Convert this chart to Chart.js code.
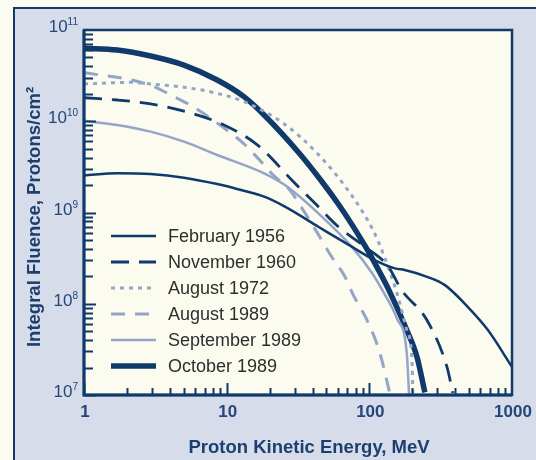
<!DOCTYPE html>
<html>
<head>
<meta charset="utf-8">
<script src="https://cdn.jsdelivr.net/npm/chart.js@4/dist/chart.umd.min.js"></script>
<style>
  html, body { margin: 0; padding: 0; background: #fbfbef; }
  #wrap { width: 536px; height: 460px; }
</style>
</head>
<body>
<div id="wrap"><canvas id="chart" width="536" height="460"></canvas></div>
<script>
// Solar proton event fluence spectra, log-log

const SERIES_LABELS = ["February 1956", "November 1960", "August 1972", "August 1989", "September 1989", "October 1989"];

const FEB_1956_E = [1, 1.71, 2.93, 5.02, 8.59, 13.2, 18.3, 25.6, 43.9, 75.2, 109, 151, 177, 257, 339, 491, 678, 1000];
const FEB_1956_F = [2.56e9, 2.69e9, 2.64e9, 2.41e9, 2.05e9, 1.73e9, 1.49e9, 1.16e9, 6.98e8, 4.22e8, 3.01e8, 2.44e8, 2.34e8, 1.96e8, 1.6e8, 9.2e7, 5.15e7, 2.03e7];

const NOV_1960_E = [1, 1.71, 2.93, 5.02, 9.57, 16.4, 30.1, 41.6, 60.6, 93.1, 135.8, 168, 253, 350, 385];
const NOV_1960_F = [1.81e10, 1.71e10, 1.55e10, 1.29e10, 9.1e9, 5.5e9, 2.09e9, 1.26e9, 6.98e8, 4.22e8, 2.55e8, 1.42e8, 6.64e7, 2.03e7, 1.05e7];

const AUG_1972_E = [1, 2.12, 3.09, 5.02, 8.59, 13.2, 24.8, 42.9, 73.1, 106, 124.5, 156, 183, 199, 202];
const AUG_1972_F = [2.56e10, 2.67e10, 2.54e10, 2.36e10, 2.02e10, 1.64e10, 9.57e9, 4.49e9, 1.64e9, 6.43e8, 3.6e8, 1.31e8, 5.15e7, 2.42e7, 1.0e7];

const AUG_1989_E = [1, 2.17, 3.09, 4.27, 5.53, 7.43, 10.0, 13.1, 16.6, 21.2, 27.8, 32.6, 42.7, 54.4, 67.5, 77.1, 96.2, 118.6, 139];
const AUG_1989_F = [3.4e10, 2.83e10, 2.39e10, 1.86e10, 1.51e10, 1.12e10, 8.02e9, 5.73e9, 3.92e9, 2.57e9, 1.75e9, 1.21e9, 6.17e8, 3.28e8, 1.98e8, 1.25e8, 6.64e7, 2.88e7, 1.05e7];

const SEP_1989_E = [1, 1.71, 2.93, 5.02, 8.59, 18.3, 25.6, 43.9, 75.2, 103.8, 128.5, 156, 183, 190];
const SEP_1989_F = [1.01e10, 9.1e9, 7.69e9, 5.97e9, 4.27e9, 2.69e9, 2.0e9, 9.8e8, 4.22e8, 2.2e8, 1.26e8, 6.9e7, 2.88e7, 1.0e7];

const OCT_1989_E = [1, 1.71, 2.93, 5.02, 8.59, 13.2, 18.3, 32.6, 46.3, 60.6, 75.2, 93.1, 109, 128.5, 143, 183, 216, 245];
const OCT_1989_F = [6.31e10, 6.04e10, 5.19e10, 4.13e10, 2.83e10, 1.86e10, 1.17e10, 4.38e9, 2.2e9, 1.24e9, 7.46e8, 4.33e8, 2.81e8, 1.73e8, 1.23e8, 5.15e7, 2.59e7, 1.07e7];

const X_TICKS = [1, 10, 100, 1000];
const Y_EXPONENTS = [7, 8, 9, 10, 11];

const NAVY = "#0f3a6b";
const LIGHT = "#95a5c9";
const PAGE_BG = "#fbfbef";
const PANEL_BG = "#d6dcea";
const PLOT_BG = "#fbfbef";
const FONT = "'Liberation Sans', Arial, sans-serif";

function pts(es, fs) {
  return es.map((e, i) => ({ x: e, y: fs[i] }));
}

function series(label, es, fs, color, width, dash) {
  return {
    label, data: pts(es, fs), borderColor: color, borderWidth: width,
    borderDash: dash, pointRadius: 0, cubicInterpolationMode: "monotone", fill: false,
  };
}

const frame = {
  id: "frame",
  beforeDraw(chart) {
    const { ctx, chartArea: a } = chart;
    ctx.save();
    ctx.fillStyle = PAGE_BG;
    ctx.fillRect(0, 0, chart.width, chart.height);
    ctx.fillStyle = PANEL_BG;
    ctx.fillRect(14, 8, chart.width, chart.height);
    ctx.strokeStyle = NAVY;
    ctx.lineWidth = 2;
    ctx.strokeRect(14, 8, chart.width + 20, chart.height + 20);
    ctx.fillStyle = PLOT_BG;
    ctx.fillRect(a.left, a.top, a.right - a.left, a.bottom - a.top);
    ctx.restore();
  },
  afterDraw(chart) {
    const { ctx, chartArea: a } = chart;
    const xs = chart.scales.x, ys = chart.scales.y;
    ctx.save();

    // inward ticks
    ctx.strokeStyle = NAVY;
    ctx.lineWidth = 2;
    ctx.beginPath();
    for (let d = 7; d < 11; d++) {
      for (let m = 1; m <= 9; m++) {
        const py = Math.round(ys.getPixelForValue(m * Math.pow(10, d))) + 0.5;
        const len = m === 1 ? 12 : 9;
        ctx.moveTo(a.left, py); ctx.lineTo(a.left + len, py);
      }
    }
    for (let d = 0; d < 3; d++) {
      for (let m = 1; m <= 9; m++) {
        const px = Math.round(xs.getPixelForValue(m * Math.pow(10, d))) + 0.5;
        const len = m === 1 ? 12 : 7;
        ctx.moveTo(px, a.bottom); ctx.lineTo(px, a.bottom - len);
      }
    }
    ctx.stroke();

    // plot frame
    ctx.lineWidth = 2.5;
    ctx.strokeRect(a.left, a.top, a.right - a.left, a.bottom - a.top);
    ctx.lineWidth = 3;
    ctx.beginPath();
    ctx.moveTo(a.left, a.top); ctx.lineTo(a.left, a.bottom); ctx.lineTo(a.right, a.bottom);
    ctx.stroke();

    // y tick labels 10^n
    ctx.fillStyle = "#24467a";
    ctx.textBaseline = "alphabetic";
    Y_EXPONENTS.forEach((e) => {
      const py = ys.getPixelForValue(Math.pow(10, e));
      ctx.font = "10px " + FONT;
      const ew = ctx.measureText(String(e)).width;
      ctx.textAlign = "right";
      ctx.fillText(String(e), 78, py - 5);
      ctx.font = "17px " + FONT;
      ctx.fillText("10", 78 - ew, py + 2);
    });

    // x tick labels
    ctx.font = "bold 17px " + FONT;
    ctx.textAlign = "center";
    X_TICKS.forEach((v) => {
      ctx.fillText(String(v), xs.getPixelForValue(v) + 1, 417);
    });

    // axis titles
    ctx.fillStyle = "#1d3f70";
    ctx.font = "bold 18.5px " + FONT;
    ctx.fillText("Proton Kinetic Energy, MeV", 309, 453);
    ctx.save();
    ctx.translate(40, 217);
    ctx.rotate(-Math.PI / 2);
    ctx.fillText("Integral Fluence, Protons/cm²", 0, 0);
    ctx.restore();

    // legend inside the plot
    ctx.textAlign = "left";
    ctx.textBaseline = "middle";
    ctx.font = "18px " + FONT;
    chart.data.datasets.forEach((ds, i) => {
      const y = 236 + i * 26;
      ctx.strokeStyle = ds.borderColor;
      ctx.lineWidth = ds.borderWidth;
      ctx.setLineDash(ds.borderDash || []);
      ctx.beginPath();
      ctx.moveTo(111, y); ctx.lineTo(156, y);
      ctx.stroke();
      ctx.setLineDash([]);
      ctx.fillStyle = "#2e2e2e";
      ctx.fillText(ds.label, 168, y + 1);
    });

    ctx.restore();
  },
};

new Chart(document.getElementById("chart"), {
  type: "line",
  data: {
    datasets: [
      series(SERIES_LABELS[0], FEB_1956_E, FEB_1956_F, NAVY, 2.5, []),
      series(SERIES_LABELS[1], NOV_1960_E, NOV_1960_F, NAVY, 2.8, [18, 10]),
      series(SERIES_LABELS[2], AUG_1972_E, AUG_1972_F, LIGHT, 3, [4, 5]),
      series(SERIES_LABELS[3], AUG_1989_E, AUG_1989_F, LIGHT, 3, [14, 10]),
      series(SERIES_LABELS[4], SEP_1989_E, SEP_1989_F, LIGHT, 2.5, []),
      series(SERIES_LABELS[5], OCT_1989_E, OCT_1989_F, NAVY, 5.5, []),
    ],
  },
  options: {
    responsive: false,
    animation: false,
    devicePixelRatio: 1,
    layout: { padding: { left: 84, right: 24, top: 30, bottom: 65 } },
    plugins: { legend: { display: false }, tooltip: { enabled: false } },
    scales: {
      x: { type: "logarithmic", min: 1, max: 1000, display: false },
      y: { type: "logarithmic", min: 1e7, max: 1e11, display: false },
    },
  },
  plugins: [frame],
});
</script>
</body>
</html>
